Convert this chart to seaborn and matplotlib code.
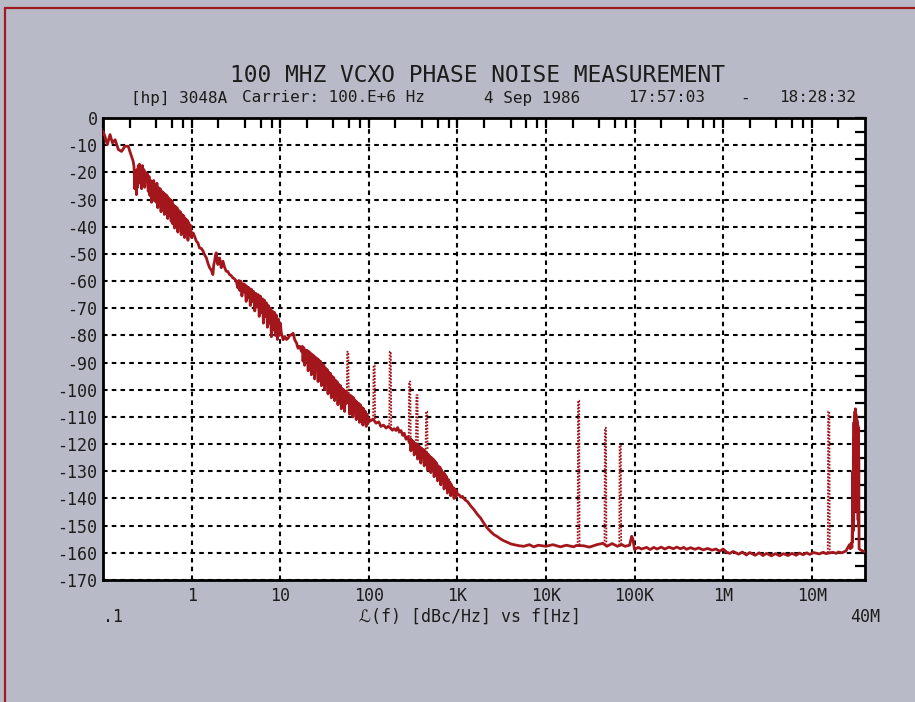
import numpy as np
import pandas as pd
import matplotlib
matplotlib.use("Agg")
import matplotlib.pyplot as plt
import seaborn as sns
from matplotlib.lines import Line2D

# ---------------- data (region by region) ----------------
# 0.1 Hz .. 0.22 Hz
freq_a = [0.100, 0.105, 0.112, 0.120, 0.128, 0.137, 0.149, 0.162, 0.177, 0.193, 0.201, 0.212, 0.219]
level_a = [-4.9, -6.7, -9.8, -6.1, -9.2, -8.0, -11.6, -12.3, -10.4, -10.4, -12.3, -14.5, -15.9]
# 0.22 .. 0.36 Hz (dense blob)
freq_b = [0.224, 0.228, 0.232, 0.235, 0.239, 0.242, 0.246, 0.250, 0.254, 0.258, 0.263, 0.268, 0.273,
          0.278, 0.284, 0.290, 0.296, 0.302, 0.310, 0.317, 0.324, 0.331, 0.338, 0.345, 0.353, 0.358]
level_b = [-18.0, -26.0, -19.5, -24.5, -28.2, -19.0, -25.5, -17.5, -24.0, -17.0, -23.5, -18.5, -26.0,
           -17.5, -22.5, -19.0, -25.5, -20.0, -23.0, -20.5, -27.0, -21.5, -28.5, -23.0, -31.0, -23.3]
# 0.36 .. 0.62 Hz
freq_c = [0.366, 0.374, 0.382, 0.390, 0.398, 0.406, 0.415, 0.424, 0.433, 0.442, 0.452, 0.462, 0.472,
          0.482, 0.493, 0.504, 0.515, 0.526, 0.538, 0.550, 0.562, 0.575, 0.588, 0.601, 0.614]
level_c = [-29.0, -23.0, -30.5, -24.5, -31.0, -24.0, -33.0, -25.7, -31.5, -26.0, -34.5, -27.0, -33.0,
           -27.5, -35.5, -28.0, -34.0, -28.5, -37.0, -29.4, -36.0, -30.0, -38.0, -30.5, -39.0]
# 0.62 .. 1 Hz
freq_d = [0.628, 0.642, 0.656, 0.670, 0.685, 0.700, 0.715, 0.731, 0.747, 0.764, 0.781, 0.798, 0.816,
          0.834, 0.852, 0.871, 0.890, 0.910, 0.930, 0.953, 0.975, 1.00]
level_d = [-32.0, -40.5, -32.5, -38.0, -33.0, -42.0, -34.0, -40.0, -34.5, -43.0, -35.5, -41.0, -36.0,
           -44.0, -37.0, -42.5, -37.5, -45.0, -38.5, -43.0, -39.5, -44.0]
# 1 .. 3.2 Hz
freq_e = [1.04, 1.08, 1.13, 1.18, 1.23, 1.29, 1.35, 1.41, 1.47, 1.53, 1.60, 1.67, 1.74, 1.78, 1.82,
          1.86, 1.90, 1.94, 1.98, 2.03, 2.07, 2.12, 2.16, 2.21, 2.26, 2.36, 2.46, 2.57, 2.68, 2.80,
          2.92, 3.05, 3.19]
level_e = [-42.3, -43.5, -45.3, -46.0, -47.8, -48.0, -49.0, -50.5, -51.5, -53.5, -55.1, -56.0, -57.6,
           -54.0, -52.7, -50.5, -49.6, -52.0, -53.9, -52.0, -51.5, -53.5, -55.1, -53.0, -52.7, -55.0,
           -56.4, -56.5, -57.6, -58.0, -58.8, -59.2, -60.0]
# 3.2 .. 10.5 Hz (dense)
freq_f = [3.33, 3.42, 3.50, 3.60, 3.70, 3.83, 3.92, 4.02, 4.13, 4.24, 4.35, 4.47, 4.60, 4.74, 4.87,
          5.01, 5.17, 5.31, 5.47, 5.64, 5.80, 5.97, 6.14, 6.30, 6.47, 6.64, 6.82, 7.00, 7.18, 7.37,
          7.56, 7.76, 7.96, 8.17, 8.38, 8.60, 8.83, 9.06, 9.30, 9.55, 9.80, 10.05, 10.3]
level_f = [-62.5, -59.8, -63.5, -60.0, -65.5, -61.0, -64.0, -61.3, -67.5, -62.0, -66.0, -62.5, -69.0,
           -63.0, -67.5, -63.8, -71.0, -64.5, -69.5, -65.0, -73.0, -65.5, -71.5, -66.5, -75.5, -67.0,
           -73.0, -68.0, -77.0, -69.0, -75.5, -70.0, -80.5, -71.0, -78.0, -71.5, -80.0, -72.5, -81.5,
           -74.0, -80.0, -75.5, -79.0]
# 10.5 .. 17 Hz
freq_g = [10.8, 11.3, 11.8, 12.3, 12.8, 13.4, 14.0, 14.6, 15.3, 15.9, 16.6]
level_g = [-81.6, -80.4, -81.5, -81.0, -80.0, -79.8, -79.2, -81.6, -82.8, -84.7, -84.0]
# 17 .. 100 Hz (dense band)
freq_h = [17.4, 17.8, 18.1, 18.5, 18.9, 19.3, 19.8, 20.2, 20.7, 21.2, 21.6, 22.0, 22.5, 23.0, 23.5,
          24.0, 24.5, 25.0, 25.6, 26.2, 26.8, 27.3, 27.9, 28.5, 29.2, 29.8, 30.5, 31.1, 31.8, 32.5,
          33.2, 33.9, 34.7, 35.4, 36.2, 37.0, 37.8, 38.6, 39.4, 40.3, 41.2, 42.1, 43.0, 43.9, 44.9,
          45.9, 46.9, 47.9, 49.0, 50.0, 51.1, 52.2, 53.4, 54.5, 55.7, 57.0, 59.5, 60.8, 62.1, 63.5,
          64.8, 66.2, 67.7, 69.2, 70.7, 72.2, 73.8, 75.4, 77.0, 78.7, 80.4, 82.2, 84.0, 85.8, 87.7,
          89.6, 91.5, 93.5, 95.6, 97.7, 100.0]
level_h = [-85.9, -84.0, -89.5, -84.5, -91.0, -85.5, -88.5, -85.5, -93.0, -86.0, -90.5, -86.5, -94.5,
           -87.0, -91.5, -87.5, -96.0, -88.0, -92.0, -88.5, -97.0, -89.0, -94.0, -89.5, -98.5, -90.5,
           -95.5, -91.0, -100.0, -92.0, -97.0, -92.5, -101.5, -93.5, -98.5, -94.0, -103.0, -95.0,
           -100.0, -95.5, -104.0, -96.5, -101.5, -97.0, -105.5, -98.0, -102.5, -98.5, -107.0, -99.5,
           -104.0, -100.0, -108.0, -100.5, -105.0, -101.0, -102.0, -109.0, -102.0, -106.5, -102.5,
           -110.0, -103.0, -107.5, -104.0, -111.0, -104.5, -108.5, -105.0, -112.0, -105.5, -109.5,
           -106.5, -113.0, -107.0, -111.0, -108.0, -113.5, -109.0, -112.5, -110.5]
# 100 .. 290 Hz
freq_i = [104, 112, 121, 130, 137, 147, 157, 167, 185, 194, 203, 212, 222, 231, 242, 252, 263, 275, 287]
level_i = [-111.5, -110.8, -112.3, -111.8, -113.5, -113.0, -114.1, -113.4, -114.9, -114.3, -115.0,
           -113.9, -115.6, -115.0, -116.8, -116.0, -118.2, -117.3, -119.5]
# 290 Hz .. 1 kHz (dense)
freq_j = [294, 299, 305, 312, 319, 326, 333, 340, 348, 356, 363, 371, 379, 387, 396, 405, 414, 423,
          432, 441, 451, 461, 471, 481, 491, 502, 513, 524, 535, 547, 559, 571, 584, 597, 610, 623,
          637, 650, 664, 679, 694, 709, 724, 740, 756, 773, 790, 807, 825, 843, 861, 880, 899, 918,
          938, 960, 980, 1000]
level_j = [-118.0, -122.5, -118.4, -121.5, -119.0, -124.0, -119.8, -122.5, -120.0, -125.5, -120.5,
           -123.5, -121.0, -127.0, -121.5, -124.5, -122.0, -128.0, -122.5, -126.0, -123.0, -129.5,
           -123.8, -127.0, -124.5, -130.5, -125.0, -128.5, -125.5, -132.0, -126.2, -130.0, -127.0,
           -133.5, -128.0, -131.5, -128.5, -135.0, -129.5, -133.0, -130.5, -136.5, -131.0, -134.5,
           -132.0, -138.0, -133.0, -136.5, -134.0, -139.0, -135.0, -138.0, -136.0, -140.0, -136.5,
           -139.5, -137.0, -138.5]
# 1 kHz .. 100 kHz
freq_k = [1045, 1090, 1140, 1220, 1300, 1420, 1540, 1680, 1830, 2000, 2180, 2380, 2590, 2820, 3080,
          3360, 3660, 4000, 4350, 5000, 5620, 6500, 7290, 8200, 10000, 12000, 14600, 17000, 20600,
          22000, 26600, 31000, 37600, 44000, 48700, 56000, 64000, 72000, 78000, 88000, 93000, 96000]
level_k = [-138.6, -139.5, -139.2, -140.5, -141.1, -142.8, -144.1, -145.8, -147.2, -149.2, -150.9,
           -152.2, -153.3, -154.0, -154.9, -155.6, -156.1, -156.7, -157.0, -157.4, -157.6, -157.0,
           -157.8, -157.2, -157.6, -157.0, -157.8, -157.2, -157.8, -157.3, -157.4, -157.9, -157.0,
           -156.5, -157.6, -156.6, -157.6, -157.0, -157.6, -157.2, -153.9, -155.0]
# 100 kHz .. 28 MHz (floor)
freq_l = [1.0e5, 1.1e5, 1.2e5, 1.37e5, 1.5e5, 1.65e5, 1.8e5, 2.0e5, 2.2e5, 2.45e5, 2.74e5, 3.0e5,
          3.3e5, 3.6e5, 3.87e5, 4.3e5, 4.8e5, 5.3e5, 5.96e5, 6.7e5, 7.5e5, 8.3e5, 9.18e5, 1.0e6,
          1.1e6, 1.19e6, 1.3e6, 1.5e6, 1.65e6, 1.83e6, 2.0e6, 2.3e6, 2.55e6, 2.82e6, 3.1e6, 3.5e6,
          3.9e6, 4.35e6, 4.8e6, 5.4e6, 6.0e6, 6.68e6, 7.3e6, 8.0e6, 8.8e6, 9.5e6, 10.5e6, 12.2e6,
          13.5e6, 14.5e6, 17.3e6, 19.0e6, 20.0e6, 22.0e6, 24.4e6, 25.5e6, 26.7e6, 27.3e6, 28.0e6]
level_l = [-158.8, -158.0, -158.6, -158.0, -158.8, -158.0, -158.6, -157.9, -158.6, -157.9, -158.5,
           -157.9, -158.5, -158.0, -158.7, -158.1, -158.7, -158.2, -158.9, -158.4, -159.0, -158.6,
           -159.4, -158.6, -159.8, -160.2, -159.5, -160.5, -159.7, -160.8, -159.9, -160.9, -160.0,
           -161.0, -160.2, -161.1, -160.3, -161.1, -160.3, -161.0, -160.2, -160.9, -160.1, -160.7,
           -160.0, -160.6, -159.9, -160.4, -159.8, -160.3, -159.8, -160.2, -159.7, -160.0, -159.3,
           -158.2, -157.0, -158.5, -156.5]
# 28 .. 40 MHz (spur cluster near the end)
freq_m = [28.5e6, 28.8e6, 29.0e6, 29.2e6, 29.4e6, 29.6e6, 29.8e6, 30.0e6, 30.2e6, 30.4e6, 30.6e6,
          30.8e6, 31.0e6, 31.2e6, 31.4e6, 31.6e6, 31.8e6, 32.0e6, 32.2e6, 32.4e6, 32.6e6, 32.8e6,
          33.0e6, 33.2e6, 33.4e6, 33.6e6, 33.8e6, 34.0e6, 34.3e6, 36.0e6, 38.0e6, 40.0e6]
level_m = [-158.0, -150.0, -156.0, -130.0, -152.0, -118.0, -148.0, -112.0, -145.0, -110.0, -140.0,
           -108.0, -135.0, -107.0, -130.0, -109.0, -138.0, -110.0, -142.0, -111.0, -140.0, -112.0,
           -145.0, -113.0, -148.0, -114.0, -150.0, -125.0, -158.5, -159.0, -159.4, -159.5]

# discrete spurs (drawn dotted by the plotter)
spur_freq_hz = [58, 115, 175, 290, 350, 450, 23400, 47000, 69000, 15.6e6]
spur_peak_dbc = [-86, -91, -86, -97, -102, -108, -104, -114, -120.5, -108]
spur_base_dbc = [-103, -111, -114, -118.5, -120, -122, -157.5, -157, -157.3, -160]

x_major_ticks = [0.1, 1, 10, 100, 1e3, 1e4, 1e5, 1e6, 1e7]
x_major_labels = ["", "1", "10", "100", "1K", "10K", "100K", "1M", "10M"]
x_minor_mult = [2, 4, 6, 8]
y_ticks = list(range(0, -171, -10))
y_labels = ["0"] + ["-%d" % v for v in range(10, 171, 10)]

title_text = "100 MHZ VCXO PHASE NOISE MEASUREMENT"
subtitle_parts = ["[hp] 3048A", "Carrier: 100.E+6 Hz", "4 Sep 1986", "17:57:03", "-", "18:28:32"]
xlabel_text = "\u2112(f) [dBc/Hz] vs f[Hz]"

freq_hz = freq_a + freq_b + freq_c + freq_d + freq_e + freq_f + freq_g + freq_h + freq_i + freq_j + freq_k + freq_l + freq_m
level_dbc = level_a + level_b + level_c + level_d + level_e + level_f + level_g + level_h + level_i + level_j + level_k + level_l + level_m
assert len(freq_hz) == len(level_dbc)

# ---------------- style ----------------
RED = "#a3171c"
BG = "#b8bbc7"
INK = "#1c1c1c"
sns.set_style("white")
plt.rcParams["font.family"] = ["DejaVu Sans Mono", "DejaVu Sans"]
plt.rcParams["text.color"] = INK

fig = plt.figure(figsize=(9.15, 7.02), dpi=100, facecolor=BG)
ax = fig.add_axes([103 / 915, 1 - 580 / 702, 762 / 915, 462 / 702])
ax.set_facecolor("white")
ax.set_xscale("log")

ax.grid(True, which="major", color="black", linestyle=(0, (2.2, 2.0)), linewidth=1.5)

trace = pd.DataFrame({"f": freq_hz, "L": level_dbc})
sns.lineplot(data=trace, x="f", y="L", ax=ax, color=RED, linewidth=2.0,
             sort=False, estimator=None, zorder=3)

rows = []
for i, (f, pk, bs) in enumerate(zip(spur_freq_hz, spur_peak_dbc, spur_base_dbc)):
    rows += [(i, f * 0.975, bs), (i, f * 0.985, pk), (i, f * 1.015, pk), (i, f * 1.025, bs)]
spurs = pd.DataFrame(rows, columns=["spur", "f", "L"])
sns.lineplot(data=spurs, x="f", y="L", units="spur", estimator=None, sort=False,
             ax=ax, color=RED, linewidth=1.3, linestyle=(0, (1.0, 0.8)), zorder=3)

ax.set_xlim(0.1, 40e6)
ax.set_ylim(-170, 0)
ax.set_xlabel("")
ax.set_ylabel("")

ax.set_xticks(x_major_ticks)
ax.set_xticklabels(x_major_labels)
minor = sorted({m * d for d in x_major_ticks for m in x_minor_mult if m * d < 40e6})
ax.set_xticks(minor, minor=True)
ax.set_xticklabels([], minor=True)
ax.set_yticks(y_ticks)
ax.set_yticklabels(y_labels)
ax.set_yticks(list(range(-5, -170, -10)), minor=True)

ax.tick_params(axis="both", which="both", direction="in", top=True, right=True,
               length=7, width=1.6, color="black", labelsize=12, labelcolor=INK)
ax.tick_params(axis="y", pad=4)
ax.tick_params(axis="x", pad=5)
for s in ax.spines.values():
    s.set_linewidth(2.0)
    s.set_color("black")

ax.text(0.1, -0.080, ".1", transform=ax.get_xaxis_transform(), ha="left", va="center", fontsize=12)
ax.text(40e6, -0.080, "40M", transform=ax.get_xaxis_transform(), ha="center", va="center", fontsize=12)
ax.text(0.482, -0.080, xlabel_text, transform=ax.transAxes, ha="center", va="center", fontsize=12)

fig.text(0.522, 1 - 76 / 702, title_text, ha="center", va="center", fontsize=16.5)
sub_pos = [(131, "left"), (242, "left"), (484, "left"), (628, "left"), (745, "center"), (856, "right")]
for t, (xx, ha) in zip(subtitle_parts, sub_pos):
    fig.text(xx / 915, 1 - 98 / 702, t, ha=ha, va="center", fontsize=11.5)

fig.add_artist(Line2D([5 / 915, 5 / 915], [0, 1 - 8 / 702], transform=fig.transFigure,
                      color="#a01820", linewidth=1.6))
fig.add_artist(Line2D([5 / 915, 1], [1 - 8 / 702, 1 - 8 / 702], transform=fig.transFigure,
                      color="#a01820", linewidth=1.6))

fig.savefig("out.png", dpi=100, facecolor=BG)
